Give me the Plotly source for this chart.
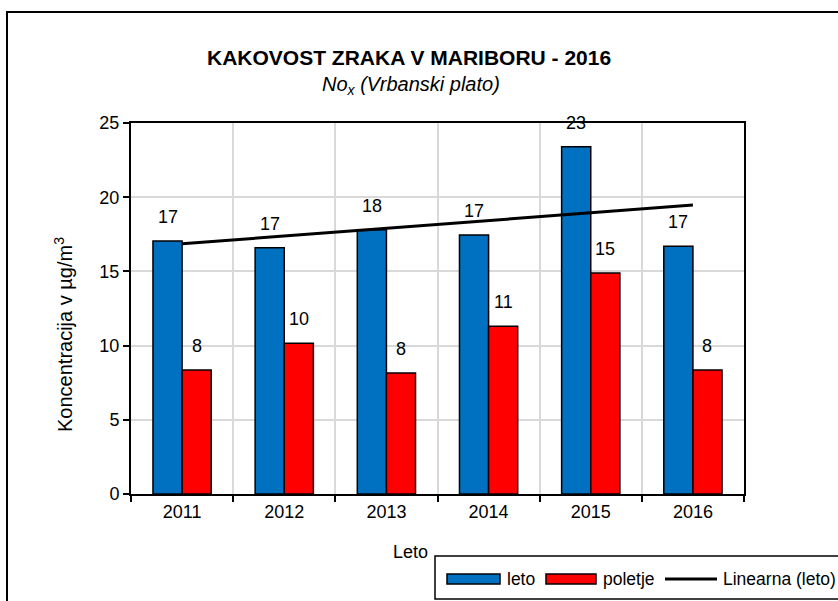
import numpy as np
import plotly.graph_objects as go

years = ["2011", "2012", "2013", "2014", "2015", "2016"]
leto = [17.05, 16.6, 17.8, 17.45, 23.4, 16.7]
poletje = [8.35, 10.15, 8.15, 11.3, 14.9, 8.35]
y_ticks = [0, 5, 10, 15, 20, 25]

title_text = "KAKOVOST ZRAKA V MARIBORU - 2016"
subtitle_text = "<i>No<sub>x</sub> (Vrbanski plato)</i>"
y_title = "Koncentracija v µg/m<sup>3</sup>"
x_title = "Leto"
legend_names = ["leto", "poletje", "Linearna (leto)"]

BLUE = "#0070C0"
RED = "#FF0000"
FONT = "Liberation Sans"

W, H = 838, 601
# plot area in page pixels
L, R, T, B = 131, 744, 123, 494


def px(x):
    return (x - L) / (R - L)


def py(y):
    return (B - y) / (B - T)


# linear trend on leto
xi = np.arange(1, len(leto) + 1)
slope, intercept = np.polyfit(xi, leto, 1)
trend = slope * xi + intercept

bargap = 0.43
cat_px = (R - L) / len(years)
bar_w = cat_px * (1 - bargap) / 2

fig = go.Figure()
fig.add_trace(go.Bar(x=years, y=leto, name=legend_names[0], marker=dict(color=BLUE, line=dict(color="black", width=1.5)), showlegend=False))
fig.add_trace(go.Bar(x=years, y=poletje, name=legend_names[1], marker=dict(color=RED, line=dict(color="black", width=1.5)), showlegend=False))
fig.add_trace(go.Scatter(x=years, y=trend, mode="lines", name=legend_names[2], line=dict(color="black", width=3), showlegend=False))

lab_font = dict(size=18, color="black", family=FONT)
annotations = []
for i, v in enumerate(leto):
    annotations.append(dict(x=i, y=v, xref="x", yref="y", text=f"{round(v)}", showarrow=False,
                            xshift=-bar_w / 2, yshift=24, font=lab_font))
for i, v in enumerate(poletje):
    annotations.append(dict(x=i, y=v, xref="x", yref="y", text=f"{round(v)}", showarrow=False,
                            xshift=bar_w / 2, yshift=24, font=lab_font))

# titles
annotations.append(dict(x=px(409), y=py(57), xref="paper", yref="paper", text=f"<b>{title_text}</b>", showarrow=False,
                        font=dict(size=21, color="black", family=FONT), xanchor="center", yanchor="middle"))
annotations.append(dict(x=px(411), y=py(86), xref="paper", yref="paper", text=subtitle_text, showarrow=False,
                        font=dict(size=20, color="black", family=FONT), xanchor="center", yanchor="middle"))
annotations.append(dict(x=px(410), y=py(552), xref="paper", yref="paper", text=x_title, showarrow=False,
                        font=dict(size=18, color="black", family=FONT), xanchor="center", yanchor="middle"))
annotations.append(dict(x=px(63), y=py(335), xref="paper", yref="paper", text=y_title, showarrow=False, textangle=-90,
                        font=dict(size=20, color="black", family=FONT), xanchor="center", yanchor="middle"))

# outer frame and manual legend
shapes = []
shapes.append(dict(type="rect", xref="paper", yref="paper", x0=px(7), y0=py(12), x1=px(W + 20), y1=py(H + 20),
                   line=dict(color="black", width=2), fillcolor="rgba(0,0,0,0)", layer="below"))
shapes.append(dict(type="rect", xref="paper", yref="paper", x0=px(435), y0=py(556), x1=px(W + 20), y1=py(599),
                   line=dict(color="black", width=1.5), fillcolor="white"))
shapes.append(dict(type="rect", xref="paper", yref="paper", x0=px(447), y0=py(574), x1=px(500), y1=py(584),
                   line=dict(color="black", width=1.5), fillcolor=BLUE))
shapes.append(dict(type="rect", xref="paper", yref="paper", x0=px(546), y0=py(574), x1=px(596), y1=py(584),
                   line=dict(color="black", width=1.5), fillcolor=RED))
shapes.append(dict(type="line", xref="paper", yref="paper", x0=px(665), y0=py(579), x1=px(717), y1=py(579),
                   line=dict(color="black", width=3)))
for name, xs in zip(legend_names, [505, 601, 721]):
    annotations.append(dict(x=px(xs), y=py(579), xref="paper", yref="paper", text=name, showarrow=False,
                            xanchor="left", yanchor="middle", font=dict(size=17.5, color="black", family=FONT)))

fig.update_layout(
    width=W, height=H,
    margin=dict(l=L, r=W - R, t=T, b=H - B, pad=0),
    paper_bgcolor="white", plot_bgcolor="white",
    barmode="group", bargap=bargap, bargroupgap=0,
    font=dict(family=FONT, size=18, color="black"),
    showlegend=False,
    annotations=annotations,
    shapes=shapes,
    xaxis=dict(type="category", range=[-0.5, len(years) - 0.5], autorange=False,
               tickson="boundaries", ticks="outside", ticklen=6, tickwidth=2, tickcolor="black",
               showline=True, linecolor="black", linewidth=2, mirror=True,
               showgrid=True, gridcolor="#d9d9d9", gridwidth=1.5,
               tickfont=dict(size=18, family=FONT, color="black")),
    yaxis=dict(range=[0, 25], autorange=False, tickvals=y_ticks, ticks="outside", ticklen=6, tickwidth=2, tickcolor="black",
               showline=True, linecolor="black", linewidth=2, mirror=True,
               showgrid=True, gridcolor="#d9d9d9", gridwidth=1.5, zeroline=False,
               tickfont=dict(size=18, family=FONT, color="black")),
)

fig.write_html("out.html", config={"displayModeBar": False},
               post_script="document.body.style.margin='0';document.body.style.overflow='hidden';")
